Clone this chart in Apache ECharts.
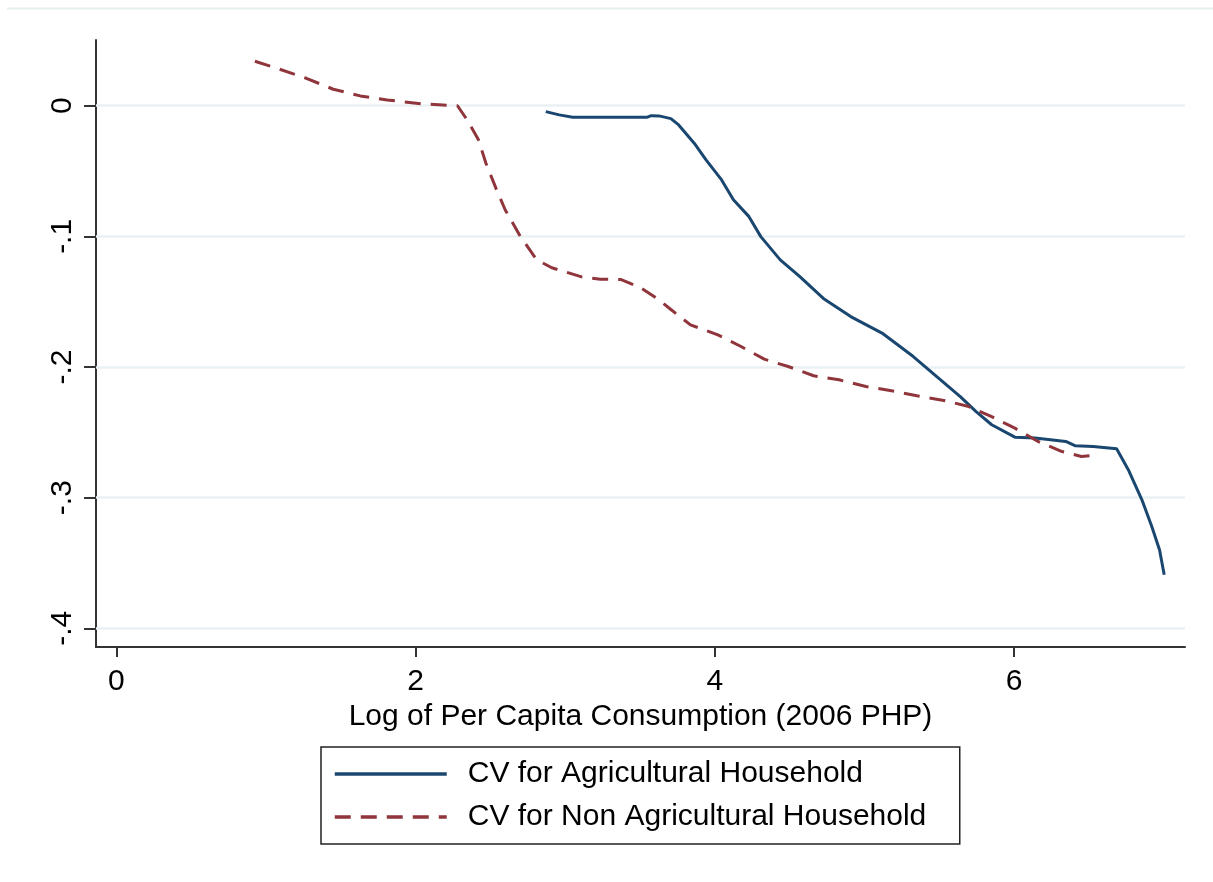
<!DOCTYPE html>
<html>
<head>
<meta charset="utf-8">
<title>CV by Log of Per Capita Consumption</title>
<script src="https://cdn.jsdelivr.net/npm/echarts@6/dist/echarts.min.js"></script>
<style>
  html, body { margin: 0; padding: 0; background: #fff; }
  #chart { width: 1213px; height: 882px; }
</style>
</head>
<body>
<div id="chart"></div>
<script>
// Log of per capita consumption (x) and compensating variation (y)
var agX = [2.87, 2.96, 3.05, 3.549, 3.575, 3.627, 3.706, 3.758, 3.862, 3.941, 4.045, 4.124, 4.228, 4.307, 4.437, 4.568, 4.725, 4.908, 5.117, 5.326, 5.483, 5.64, 5.744, 5.85, 6.005, 6.14, 6.345, 6.41, 6.528, 6.685, 6.763, 6.854, 6.92, 6.972, 7.003];
var agY = [-0.0045, -0.007, -0.0088, -0.0088, -0.0076, -0.0078, -0.0099, -0.0147, -0.0287, -0.0415, -0.0568, -0.072, -0.0849, -0.1002, -0.118, -0.1308, -0.1475, -0.1614, -0.174, -0.192, -0.2073, -0.2226, -0.234, -0.2442, -0.2537, -0.2544, -0.257, -0.2603, -0.2608, -0.2626, -0.2786, -0.3016, -0.322, -0.34, -0.359];

var nonAgX = [0.926, 1.09, 1.27, 1.45, 1.63, 1.81, 2.04, 2.28, 2.345, 2.42, 2.47, 2.54, 2.60, 2.70, 2.81, 2.91, 3.11, 3.235, 3.37, 3.50, 3.627, 3.706, 3.837, 4.02, 4.175, 4.33, 4.49, 4.66, 4.83, 5.01, 5.18, 5.35, 5.53, 5.69, 5.85, 6.005, 6.16, 6.32, 6.45, 6.554];
var nonAgY = [0.034, 0.028, 0.021, 0.0126, 0.0075, 0.0044, 0.0014, 0.0, -0.011, -0.026, -0.044, -0.064, -0.080, -0.100, -0.118, -0.124, -0.131, -0.1328, -0.133, -0.139, -0.1486, -0.156, -0.1677, -0.1754, -0.1843, -0.194, -0.1996, -0.2067, -0.2098, -0.2149, -0.2182, -0.222, -0.2256, -0.230, -0.238, -0.2468, -0.257, -0.2647, -0.2685, -0.2672];

var seriesNames = ['CV for Agricultural Household', 'CV for Non Agricultural Household'];
var xTicks = [0, 2, 4, 6];
var yTicks = [-0.4, -0.3, -0.2, -0.1, 0];
var yTickLabels = ['-.4', '-.3', '-.2', '-.1', '0'];
var xTitle = 'Log of Per Capita Consumption (2006 PHP)';

function zip(xs, ys) {
  return xs.map(function (x, i) { return [x, ys[i]]; });
}

var FONT = '"Liberation Sans", Arial, sans-serif';
var FS = 30;

var chart = echarts.init(document.getElementById('chart'), null, { renderer: 'canvas' });

chart.setOption({
  backgroundColor: '#ffffff',
  animation: false,
  textStyle: { fontFamily: FONT },
  graphic: [{
    type: 'line',
    shape: { x1: 7, y1: 8.5, x2: 1213, y2: 8.5 },
    style: { stroke: '#e6eef0', lineWidth: 2 },
    silent: true
  }],
  grid: { left: 96, right: 28, top: 40, bottom: 235, containLabel: false },
  xAxis: {
    type: 'value',
    min: -0.136,
    max: 7.142,
    name: xTitle,
    nameLocation: 'middle',
    nameGap: 49,
    nameTextStyle: { fontSize: FS, color: '#000', fontFamily: FONT },
    axisLine: { show: true, onZero: false, lineStyle: { color: '#333', width: 2 } },
    axisTick: { show: true, length: 10, customValues: xTicks, lineStyle: { color: '#333', width: 2 } },
    axisLabel: { customValues: xTicks, fontSize: FS, color: '#000', margin: 20, fontFamily: FONT },
    splitLine: { show: false }
  },
  yAxis: {
    type: 'value',
    min: -0.4143,
    max: 0.0503,
    axisLine: { show: true, onZero: false, lineStyle: { color: '#333', width: 2 } },
    axisTick: { show: true, length: 12, customValues: yTicks, lineStyle: { color: '#333', width: 2 } },
    axisLabel: {
      customValues: yTicks,
      rotate: 90,
      fontSize: FS,
      color: '#000',
      margin: 18,
      fontFamily: FONT,
      formatter: function (v) {
        for (var i = 0; i < yTicks.length; i++) {
          if (Math.abs(v - yTicks[i]) < 1e-9) return yTickLabels[i];
        }
        return '';
      }
    },
    splitLine: { show: false }
  },
  legend: {
    orient: 'vertical',
    left: 321,
    top: 747,
    padding: [12, 22, 12, 12],
    itemGap: 13,
    itemWidth: 112,
    itemHeight: 2,
    itemStyle: { opacity: 0 },
    lineStyle: { width: 3.5 },
    borderColor: '#222',
    borderWidth: 1.5,
    borderRadius: 0,
    backgroundColor: '#fff',
    selectedMode: false,
    textStyle: {
      fontSize: FS,
      color: '#000',
      fontFamily: FONT,
      lineHeight: 30,
      width: 470,
      padding: [0, 0, 0, 16]
    },
    data: seriesNames
  },
  series: [
    {
      // horizontal grid at the labelled y ticks
      type: 'line',
      data: [],
      silent: true,
      markLine: {
        silent: true,
        z: 1,
        symbol: ['none', 'none'],
        label: { show: false },
        lineStyle: { type: 'solid', color: '#eaf1f3', width: 2.5 },
        data: yTicks.map(function (v) { return { yAxis: v }; })
      }
    },
    {
      name: seriesNames[0],
      type: 'line',
      data: zip(agX, agY),
      showSymbol: false,
      symbol: 'none',
      smooth: false,
      z: 3,
      lineStyle: { color: '#1a476f', width: 3 },
      itemStyle: { color: '#1a476f' }
    },
    {
      name: seriesNames[1],
      type: 'line',
      data: zip(nonAgX, nonAgY),
      showSymbol: false,
      symbol: 'none',
      smooth: false,
      z: 4,
      lineStyle: { color: '#90353b', width: 3, type: [16, 10] },
      itemStyle: { color: '#90353b' }
    }
  ]
});
</script>
</body>
</html>
